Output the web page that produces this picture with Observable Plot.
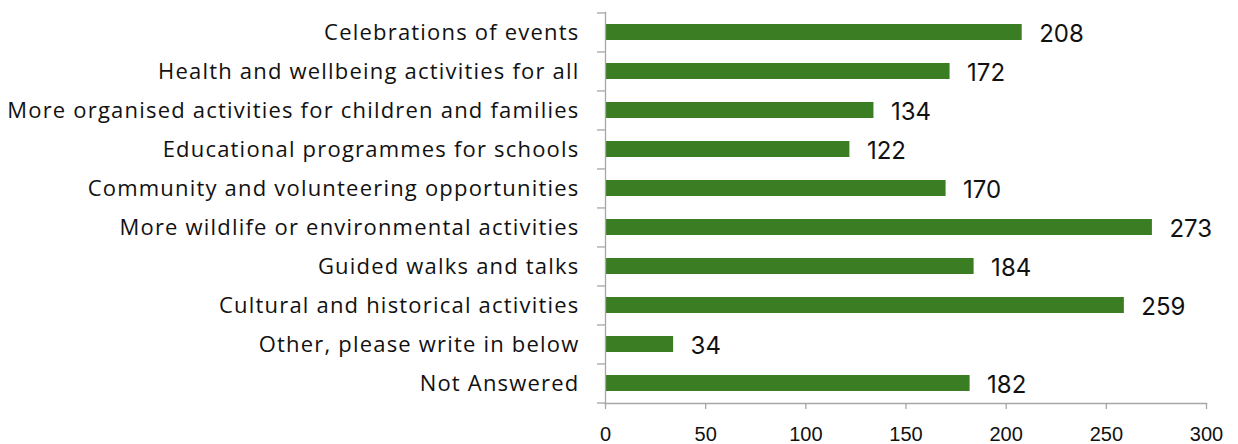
<!DOCTYPE html>
<html>
<head>
<meta charset="utf-8">
<script src="https://cdn.jsdelivr.net/npm/d3@7"></script>
<script src="https://cdn.jsdelivr.net/npm/@observablehq/plot@0.6"></script>
<style>
  html, body { margin: 0; padding: 0; background: #fff; }
  #chart svg { display: block; }
  .ylab text { letter-spacing: 1.2px; }
</style>
</head>
<body>
<div id="chart"></div>
<script>
const categories = [
  "Celebrations of events",
  "Health and wellbeing activities for all",
  "More organised activities for children and families",
  "Educational programmes for schools",
  "Community and volunteering opportunities",
  "More wildlife or environmental activities",
  "Guided walks and talks",
  "Cultural and historical activities",
  "Other, please write in below",
  "Not Answered"
];
const values = [208, 172, 134, 122, 170, 273, 184, 259, 34, 182];
const xTicks = [0, 50, 100, 150, 200, 250, 300];

const data = categories.map((c, i) => ({category: c, value: values[i]}));

const W = 1238, H = 444;
const mTop = 12, mBottom = 41, mLeft = 605, mRight = 32;
const step = (H - mTop - mBottom) / categories.length;
const axisColor = "#a6a6a6";

const chart = Plot.plot({
  width: W,
  height: H,
  marginTop: mTop,
  marginBottom: mBottom,
  marginLeft: mLeft,
  marginRight: mRight,
  style: {background: "#fff", overflow: "visible"},
  x: {domain: [0, 300]},
  y: {domain: categories, paddingInner: 0.59, paddingOuter: 0.295},
  marks: [
    Plot.barX(data, {x: "value", y: "category", fill: "#3b7d23"}),
    Plot.text(data, {
      x: "value", y: "category", text: d => String(d.value),
      dx: 17, dy: 2, textAnchor: "start", fontSize: 24,
      fontFamily: "Inter, 'Liberation Sans', sans-serif", fill: "#111"
    }),
    Plot.frame({anchor: "left", stroke: axisColor, strokeWidth: 1.3}),
    Plot.frame({anchor: "bottom", stroke: axisColor, strokeWidth: 1.3}),
    Plot.ruleY(categories, {y: d => d, x1: -4, x2: 0, dy: -step / 2, stroke: axisColor, strokeWidth: 1.3}),
    Plot.ruleY([categories[categories.length - 1]], {y: d => d, x1: -4, x2: 0, dy: step / 2, stroke: axisColor, strokeWidth: 1.3}),
    Plot.axisY({
      tickSize: 0, tickPadding: 26, label: null, fontSize: 22, className: "ylab",
      fontFamily: "'Open Sans', Inter, sans-serif", fill: "#111"
    }),
    Plot.axisX({
      ticks: xTicks, tickFormat: d => String(d), tickSize: 6, tickPadding: 17,
      label: null, fontSize: 20, stroke: axisColor, strokeWidth: 1.3,
      fontFamily: "'Liberation Sans', Arial, sans-serif", fill: "#111"
    })
  ]
});

document.getElementById("chart").appendChild(chart);
</script>
</body>
</html>
